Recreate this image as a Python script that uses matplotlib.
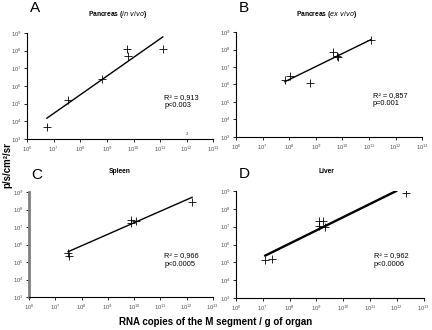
import matplotlib
matplotlib.use("Agg")
import matplotlib.pyplot as plt
import numpy as np

plt.rcParams.update({
    "font.family": ["Liberation Sans", "DejaVu Sans"],
    "axes.linewidth": 0.8,
})

# data points (x = RNA copies/g, y = p/s/cm2/sr)
A_X = [5.5e6, 3.5e7, 6.6e8, 5.8e9, 6.3e9, 1.25e11]
A_Y = [4.6e3, 1.7e5, 2.6e6, 1.25e8, 4.9e7, 1.2e8]
A_LINE_X = [5.5e6, 1.25e11]
A_LINE_Y = [1.5e4, 6.0e8]

B_X = [6.8e7, 1.05e8, 6.2e8, 4.5e9, 6.0e9, 6.8e9, 1.15e11]
B_Y = [1.8e6, 3.1e6, 1.2e6, 6.9e7, 4.3e7, 3.6e7, 3.6e8]
B_LINE_X = [6.8e7, 1.15e11]
B_LINE_Y = [1.45e6, 3.6e8]

C_X = [3.1e7, 3.4e7, 7.4e9, 7.4e9, 1.15e10, 1.6e12]
C_Y = [3.4e5, 2.2e5, 2.5e7, 1.6e7, 2.2e7, 2.8e8]
C_LINE_X = [3.1e7, 1.6e12]
C_LINE_Y = [3.9e5, 5.0e8]

D_X = [1.25e7, 2.3e7, 1.2e9, 1.8e9, 1.2e9, 2.1e9, 2.1e12]
D_Y = [1.35e5, 1.5e5, 2.2e7, 2.2e7, 1.1e7, 1.0e7, 7.6e8]
D_LINE_X = [1.25e7, 9.3e11]
D_LINE_Y = [2.4e5, 1.0e9]

PANELS = [
    ("A", "Pancreas (", "in vivo", ")", A_X, A_Y, A_LINE_X, A_LINE_Y,
     "R² = 0,913", "p<0.003"),
    ("B", "Pancreas (", "ex vivo", ")", B_X, B_Y, B_LINE_X, B_LINE_Y,
     "R² = 0,857", "p=0.001"),
    ("C", "Spleen", "", "", C_X, C_Y, C_LINE_X, C_LINE_Y,
     "R² = 0,966", "p<0.0005"),
    ("D", "Liver", "", "", D_X, D_Y, D_LINE_X, D_LINE_Y,
     "R² = 0,962", "p<0.0006"),
]

# axes rectangles in figure fraction
RECTS = [
    [0.063, 0.579, 0.431, 0.321],
    [0.547, 0.585, 0.430, 0.318],
    [0.067, 0.100, 0.426, 0.318],
    [0.546, 0.097, 0.435, 0.324],
]
LETTER_Y = [0.975, 0.976, 0.470, 0.473]
TITLE_Y = [0.957, 0.957, 0.479, 0.479]

fig = plt.figure(figsize=(4.32, 3.30), dpi=100)

for i, (letter, t1, t2, t3, xs, ys, lx, ly, r2, pv) in enumerate(PANELS):
    ax = fig.add_axes(RECTS[i])
    ax.set_xscale("log")
    ax.set_yscale("log")
    ax.set_xlim(1e6, 1e13)
    ax.set_ylim(1e3, 1e9)
    ax.set_xticks([10.0 ** k for k in range(6, 14)])
    ax.set_yticks([10.0 ** k for k in range(3, 10)])
    ax.minorticks_off()
    ax.tick_params(labelsize=4.2, labelcolor="#555555", length=2, width=0.6,
                   pad=2)
    ax.spines["top"].set_visible(False)
    ax.spines["right"].set_visible(False)
    if letter == "C":
        ax.spines["left"].set_color("#808080")
        ax.spines["left"].set_linewidth(2.0)
    ax.patch.set_alpha(0)

    lw = 1.7 if letter == "D" else 1.0
    ax.plot(lx, ly, color="black", lw=lw)
    ax.plot(xs, ys, ls="none", marker="+", ms=6, mew=0.6, color="black")

    ax.text(0.735, 0.38, r2, transform=ax.transAxes, fontsize=5.3)
    ax.text(0.735, 0.30, pv, transform=ax.transAxes, fontsize=5.3)

    # panel letter and title
    pos = ax.get_position()
    fig.text(pos.x0 + 0.006, LETTER_Y[i], letter, fontsize=11,
             ha="left", va="center")
    title = t1 + (r"$\it{" + t2.replace(" ", r"\ ") + "}$" if t2 else "") + t3
    fig.text(pos.x0 + 0.21, TITLE_Y[i], title, fontsize=4.8,
             fontweight="bold", ha="center", va="center")

    if letter == "A":
        ax.text(1e12, 2.0e3, "2", fontsize=3, ha="center", va="center",
                color="#444444")

fig.text(0.5, 0.025, "RNA copies of the M segment / g of organ",
         fontsize=7, fontweight="bold", ha="center", va="center")
fig.text(0.018, 0.5, "p/s/cm²/sr", fontsize=7, fontweight="bold",
         rotation=90, ha="center", va="center")

fig.savefig("out.png", dpi=100)
